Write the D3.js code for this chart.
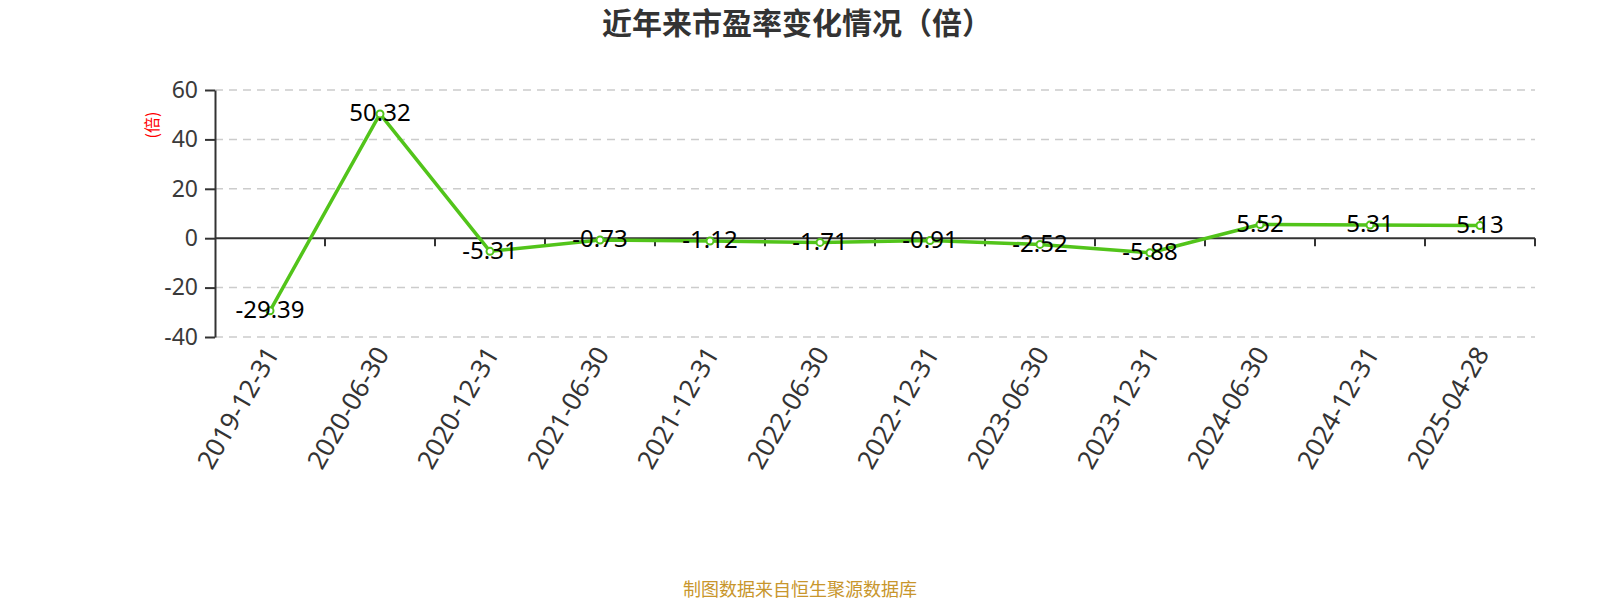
<!DOCTYPE html>
<html>
<head>
<meta charset="utf-8">
<script src="https://cdn.jsdelivr.net/npm/d3@7/dist/d3.min.js"></script>
<style>
  html, body { margin: 0; padding: 0; background: #fff; }
  svg { display: block; }
</style>
</head>
<body>
<svg id="chart" width="1600" height="600"></svg>
<script>
const categories = ["2019-12-31","2020-06-30","2020-12-31","2021-06-30","2021-12-31","2022-06-30","2022-12-31","2023-06-30","2023-12-31","2024-06-30","2024-12-31","2025-04-28"];
const peValues = [-29.39, 50.32, -5.31, -0.73, -1.12, -1.71, -0.91, -2.52, -5.88, 5.52, 5.31, 5.13];
const yTicks = [-40, -20, 0, 20, 40, 60];
const titleText = "近年来市盈率变化情况（倍）";
const yAxisLabel = "(倍)";
const footerText = "制图数据来自恒生聚源数据库";

(function () {
const svg = d3.select("#chart");
const plotLeft = 215, plotRight = 1535, plotTop = 90, plotBottom = 337;
const numFont = "'Noto Sans', 'Open Sans', sans-serif";
const cjkFont = "'Noto Sans CJK SC', sans-serif";

const x = d3.scaleBand().domain(categories).range([plotLeft, plotRight]);
const y = d3.scaleLinear().domain([-40, 60]).range([plotBottom, plotTop]);

// Title
svg.append("text")
  .attr("x", 797).attr("y", 34)
  .attr("text-anchor", "middle")
  .attr("font-family", cjkFont)
  .attr("font-weight", "bold")
  .attr("font-size", 30)
  .attr("fill", "#333")
  .text(titleText);

// Grid lines
svg.append("g").selectAll("line")
  .data(yTicks.filter(d => d !== 0))
  .join("line")
  .attr("x1", plotLeft).attr("x2", plotRight)
  .attr("y1", d => y(d)).attr("y2", d => y(d))
  .attr("stroke", "#ccc")
  .attr("stroke-width", 1.5)
  .attr("stroke-dasharray", "8,6");

// Y axis
const yAxis = svg.append("g")
  .attr("transform", `translate(${plotLeft},0)`)
  .call(d3.axisLeft(y).tickValues(yTicks).tickFormat(d => String(d))
    .tickSize(10).tickSizeOuter(0).tickPadding(7));
yAxis.select(".domain").attr("stroke", "#333").attr("stroke-width", 2);
yAxis.selectAll(".tick line").attr("stroke", "#333").attr("stroke-width", 2);
yAxis.selectAll(".tick text")
  .attr("font-family", numFont).attr("font-size", 23).attr("fill", "#3a3a3a");

// X axis at zero
const zeroY = y(0);
const xAxis = svg.append("g").attr("transform", `translate(0,${zeroY})`);
xAxis.append("line")
  .attr("x1", plotLeft).attr("x2", plotRight)
  .attr("stroke", "#333").attr("stroke-width", 2);
xAxis.selectAll(".xt")
  .data(categories)
  .join("line")
  .attr("class", "xt")
  .attr("x1", d => x(d) + x.bandwidth()).attr("x2", d => x(d) + x.bandwidth())
  .attr("y1", 0).attr("y2", 8)
  .attr("stroke", "#333").attr("stroke-width", 2);

// X labels
svg.append("g").selectAll("text")
  .data(categories)
  .join("text")
  .attr("transform", d => `translate(${x(d) + x.bandwidth() / 2 + 2},${plotBottom + 12}) rotate(-60)`)
  .attr("text-anchor", "end")
  .attr("dy", "0.35em")
  .attr("font-family", numFont)
  .attr("font-size", 26)
  .attr("fill", "#333")
  .text(d => d);

// Y axis label
svg.append("text")
  .attr("transform", `translate(158,125) rotate(-90)`)
  .attr("text-anchor", "middle")
  .attr("font-family", cjkFont)
  .attr("font-size", 16)
  .attr("fill", "#ff0000")
  .text(yAxisLabel);

// Line
const data = categories.map((c, i) => ({ c, v: peValues[i] }));
const line = d3.line()
  .x(d => x(d.c) + x.bandwidth() / 2)
  .y(d => y(d.v));
svg.append("path")
  .datum(data)
  .attr("d", line)
  .attr("fill", "none")
  .attr("stroke", "#52c41a")
  .attr("stroke-width", 3.5)
  .attr("stroke-linejoin", "round");

// Points
svg.append("g").selectAll("circle")
  .data(data)
  .join("circle")
  .attr("cx", d => x(d.c) + x.bandwidth() / 2)
  .attr("cy", d => y(d.v))
  .attr("r", 3.5)
  .attr("fill", "#fff")
  .attr("stroke", "#52c41a")
  .attr("stroke-width", 2);

// Data labels
svg.append("g").selectAll("text")
  .data(data)
  .join("text")
  .attr("x", d => x(d.c) + x.bandwidth() / 2)
  .attr("y", d => y(d.v))
  .attr("dy", "0.3em")
  .attr("text-anchor", "middle")
  .attr("font-family", numFont)
  .attr("font-size", 24)
  .attr("fill", "#000")
  .text(d => d.v.toFixed(2));

// Footer
svg.append("text")
  .attr("x", 800).attr("y", 596)
  .attr("text-anchor", "middle")
  .attr("font-family", cjkFont)
  .attr("font-size", 18)
  .attr("fill", "#c8962c")
  .text(footerText);
})();
</script>
</body>
</html>
